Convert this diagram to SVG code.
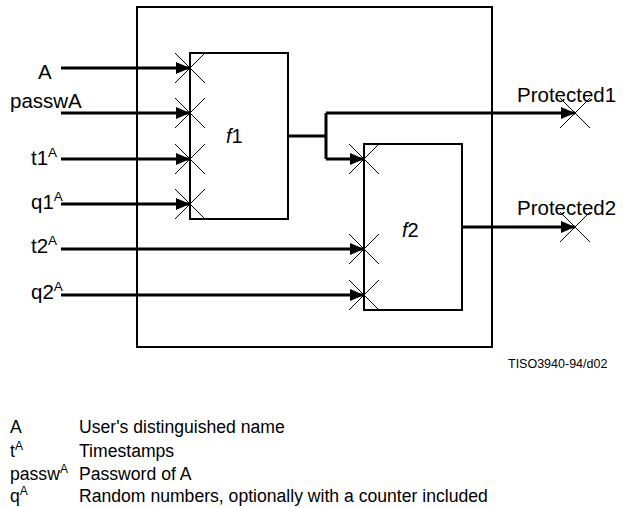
<svg xmlns="http://www.w3.org/2000/svg" width="633" height="507" viewBox="0 0 633 507">
<style>
text{font-family:"Liberation Sans",Arial,sans-serif;fill:#000}
.lbl{font-size:20.5px}
.sup{font-size:13.5px}
.leg{font-size:17.6px}
.lsup{font-size:12px}
.box{fill:none;stroke:#000;stroke-width:2}
.wire{fill:none;stroke:#000;stroke-width:3}
.x{stroke:#000;stroke-width:1}
</style>
<defs>
<marker id="ah" markerUnits="userSpaceOnUse" markerWidth="16" markerHeight="14" refX="14" refY="6" orient="auto">
<path d="M0,0 L14,6 L0,12 Z" fill="#000"/>
</marker>
<g id="xm"><line class="x" x1="-15" y1="-15" x2="15" y2="15"/><line class="x" x1="-15" y1="15" x2="15" y2="-15"/></g>
</defs>
<rect width="633" height="507" fill="#fff"/>
<g id="boundary"><rect class="box" x="137" y="7" width="355" height="340"/></g>
<g id="f1"><rect class="box" x="190" y="53" width="98" height="166"/><text class="lbl" x="226" y="143" style="font-size:20px"><tspan font-style="italic">f</tspan>1</text></g>
<g id="f2"><rect class="box" x="364" y="144" width="98" height="166"/><text class="lbl" x="402" y="237" style="font-size:20px"><tspan font-style="italic">f</tspan>2</text></g>
<g id="inputs">
<text class="lbl" x="38" y="79">A</text>
<text class="lbl" x="10" y="108">passwA</text>
<text class="lbl" x="31" y="165">t1<tspan class="sup" dy="-8">A</tspan></text>
<text class="lbl" x="31" y="209">q1<tspan class="sup" dy="-8">A</tspan></text>
<text class="lbl" x="31" y="253">t2<tspan class="sup" dy="-8">A</tspan></text>
<text class="lbl" x="31" y="299">q2<tspan class="sup" dy="-8">A</tspan></text>
</g>
<g id="outputs">
<text class="lbl" x="517" y="102">Protected1</text>
<text class="lbl" x="517" y="215">Protected2</text>
</g>
<g id="connectors">
<line class="wire" x1="61" y1="68" x2="190" y2="68" marker-end="url(#ah)"/>
<line class="wire" x1="61" y1="113" x2="190" y2="113" marker-end="url(#ah)"/>
<line class="wire" x1="61" y1="159" x2="190" y2="159" marker-end="url(#ah)"/>
<line class="wire" x1="61" y1="204" x2="190" y2="204" marker-end="url(#ah)"/>
<line class="wire" x1="61" y1="249" x2="364" y2="249" marker-end="url(#ah)"/>
<line class="wire" x1="61" y1="295" x2="364" y2="295" marker-end="url(#ah)"/>
<polyline class="wire" points="288,136 326,136"/>
<polyline class="wire" points="326,113 326,159"/>
<polyline class="wire" points="326,113 575,113" marker-end="url(#ah)"/>
<polyline class="wire" points="326,159 364,159" marker-end="url(#ah)"/>
<line class="wire" x1="462" y1="227" x2="575" y2="227" marker-end="url(#ah)"/>
<use href="#xm" x="190" y="68"/>
<use href="#xm" x="190" y="113"/>
<use href="#xm" x="190" y="159"/>
<use href="#xm" x="190" y="204"/>
<use href="#xm" x="364" y="159"/>
<use href="#xm" x="364" y="249"/>
<use href="#xm" x="364" y="295"/>
<use href="#xm" x="575" y="113"/>
<use href="#xm" x="575" y="227"/>
</g>
<text x="508" y="368" font-size="12.5">TISO3940-94/d02</text>
<g id="legend">
<text class="leg" x="10" y="433">A</text><text class="leg" x="79" y="433">User's distinguished name</text>
<text class="leg" x="10" y="457">t<tspan class="lsup" dy="-7">A</tspan></text><text class="leg" x="79" y="457">Timestamps</text>
<text class="leg" x="10" y="480">passw<tspan class="lsup" dy="-7">A</tspan></text><text class="leg" x="79" y="480">Password of A</text>
<text class="leg" x="10" y="502">q<tspan class="lsup" dy="-7">A</tspan></text><text class="leg" x="79" y="502">Random numbers, optionally with a counter included</text>
</g>
</svg>
